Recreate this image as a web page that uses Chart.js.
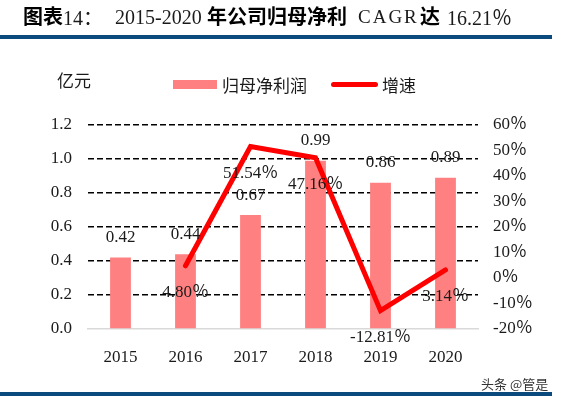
<!DOCTYPE html>
<html>
<head>
<meta charset="utf-8">
<script src="https://cdn.jsdelivr.net/npm/chart.js@4"></script>
<style>
  body { margin: 0; background: #fff; }
  #page { position: relative; width: 570px; height: 402px; overflow: hidden; font-family: "Liberation Serif", serif; color: #1a1a1a; }
  #wrap { position: absolute; left: 0; top: 0; width: 570px; height: 402px; }
  .t { position: absolute; white-space: nowrap; line-height: 1; }
  .cjk { font-family: "Noto Sans CJK SC", sans-serif; }
  .b { font-weight: bold; color: #000; }
  .rule { position: absolute; left: 0; width: 552px; height: 4px; background: #0b4a7d; }
</style>
</head>
<body>
<div id="page">
  <div id="wrap"><canvas id="beneficioChart"></canvas></div>

  <span class="t cjk b" style="left:23px;top:6px;font-size:20px;">图表</span>
  <span class="t" style="left:63px;top:7px;font-size:20px;">14<span class="cjk">：</span></span>
  <span class="t" style="left:115px;top:7px;font-size:20px;">2015-2020</span>
  <span class="t cjk b" style="left:207px;top:6px;font-size:20px;">年公司归母净利</span>
  <span class="t" style="left:358px;top:7px;font-size:19px;letter-spacing:2px;">CAGR</span>
  <span class="t cjk b" style="left:420px;top:6px;font-size:20px;">达</span>
  <span class="t" style="left:447px;top:7px;font-size:20px;">16.21<span class="cjk">％</span></span>
  <div class="rule" style="top:35px;"></div>

  <span class="t cjk" style="left:57px;top:71px;font-size:17px;">亿元</span>
  <div style="position:absolute;left:173px;top:80px;width:44px;height:9px;background:#ff8080;"></div>
  <span class="t cjk" style="left:222px;top:76px;font-size:17px;">归母净利润</span>
  <div style="position:absolute;left:331px;top:82px;width:47px;height:5px;border-radius:3px;background:#ff0000;"></div>
  <span class="t cjk" style="left:382px;top:76px;font-size:17px;">增速</span>

  <span class="t cjk" style="left:481px;top:377px;font-size:13px;color:#333;">头条 @管是</span>
  <div class="rule" style="top:392px;"></div>
</div>

<script>
document.addEventListener("DOMContentLoaded", function() {
    // datos del grafico
    const anios = ['2015', '2016', '2017', '2018', '2019', '2020'];
    const beneficio = [0.42, 0.44, 0.67, 0.99, 0.86, 0.89];
    const crecimiento = [null, 4.80, 51.54, 47.16, -12.81, 3.14];
    const etiquetasCrecimiento = ['', '4.80％', '51.54％', '47.16％', '-12.81％', '3.14％'];

    const fuente = '17px "Liberation Serif", "Noto Sans CJK SC", serif';

    // etiquetas encima de barras y debajo de la linea
    const etiquetas = {
        id: 'etiquetas',
        afterDatasetsDraw(chart) {
            const ctx = chart.ctx;
            ctx.save();
            ctx.font = fuente;
            ctx.fillStyle = '#1a1a1a';
            ctx.textAlign = 'center';
            ctx.textBaseline = 'middle';
            chart.getDatasetMeta(1).data.forEach((bar, i) => {
                ctx.fillText(beneficio[i].toFixed(2), bar.x, bar.y - 20);
            });
            chart.getDatasetMeta(0).data.forEach((pt, i) => {
                if (crecimiento[i] === null) return;
                ctx.fillText(etiquetasCrecimiento[i], pt.x, pt.y + 27);
            });
            ctx.restore();
        }
    };

    const ctxBeneficio = document.getElementById('beneficioChart').getContext('2d');
    new Chart(ctxBeneficio, {
        data: {
            labels: anios,
            datasets: [{
                type: 'line',
                label: '增速',
                data: crecimiento,
                yAxisID: 'y2',
                borderColor: '#ff0000',
                borderWidth: 5,
                borderCapStyle: 'round',
                borderJoinStyle: 'miter',
                pointRadius: 0,
                tension: 0
            }, {
                type: 'bar',
                label: '归母净利润',
                data: beneficio,
                yAxisID: 'y',
                backgroundColor: '#ff8080',
                categoryPercentage: 1,
                barPercentage: 0.32
            }]
        },
        options: {
            responsive: true,
            maintainAspectRatio: false,
            animation: false,
            layout: { padding: { top: 125, left: 0, right: 0, bottom: 0 } },
            scales: {
                x: {
                    grid: { display: false },
                    border: { display: true, color: '#d9d9d9', width: 1.5 },
                    ticks: { color: '#1a1a1a', font: { family: '"Liberation Serif", serif', size: 17 }, padding: 10, maxRotation: 0 },
                    afterFit(scale) { scale.height = 73; }
                },
                y: {
                    position: 'left',
                    min: 0,
                    max: 1.2,
                    ticks: {
                        stepSize: 0.2,
                        color: '#1a1a1a',
                        padding: 16,
                        font: { family: '"Liberation Serif", serif', size: 17 },
                        callback: v => v.toFixed(1)
                    },
                    grid: {
                        drawTicks: false,
                        color: ctx => ctx.tick.value === 0 ? 'rgba(0,0,0,0)' : '#000',
                        lineWidth: 1.5
                    },
                    border: { display: false, dash: [6, 3] },
                    afterFit(scale) { scale.width = 88; }
                },
                y2: {
                    position: 'right',
                    min: -20,
                    max: 60,
                    ticks: {
                        stepSize: 10,
                        color: '#1a1a1a',
                        padding: 15,
                        font: { family: '"Liberation Serif", "Noto Sans CJK SC", serif', size: 17 },
                        callback: v => v + '％'
                    },
                    grid: { display: false, drawTicks: false },
                    border: { display: false },
                    afterFit(scale) { scale.width = 92; }
                }
            },
            plugins: {
                legend: { display: false },
                tooltip: { enabled: false }
            }
        },
        plugins: [etiquetas]
    });
});
</script>
</body>
</html>
